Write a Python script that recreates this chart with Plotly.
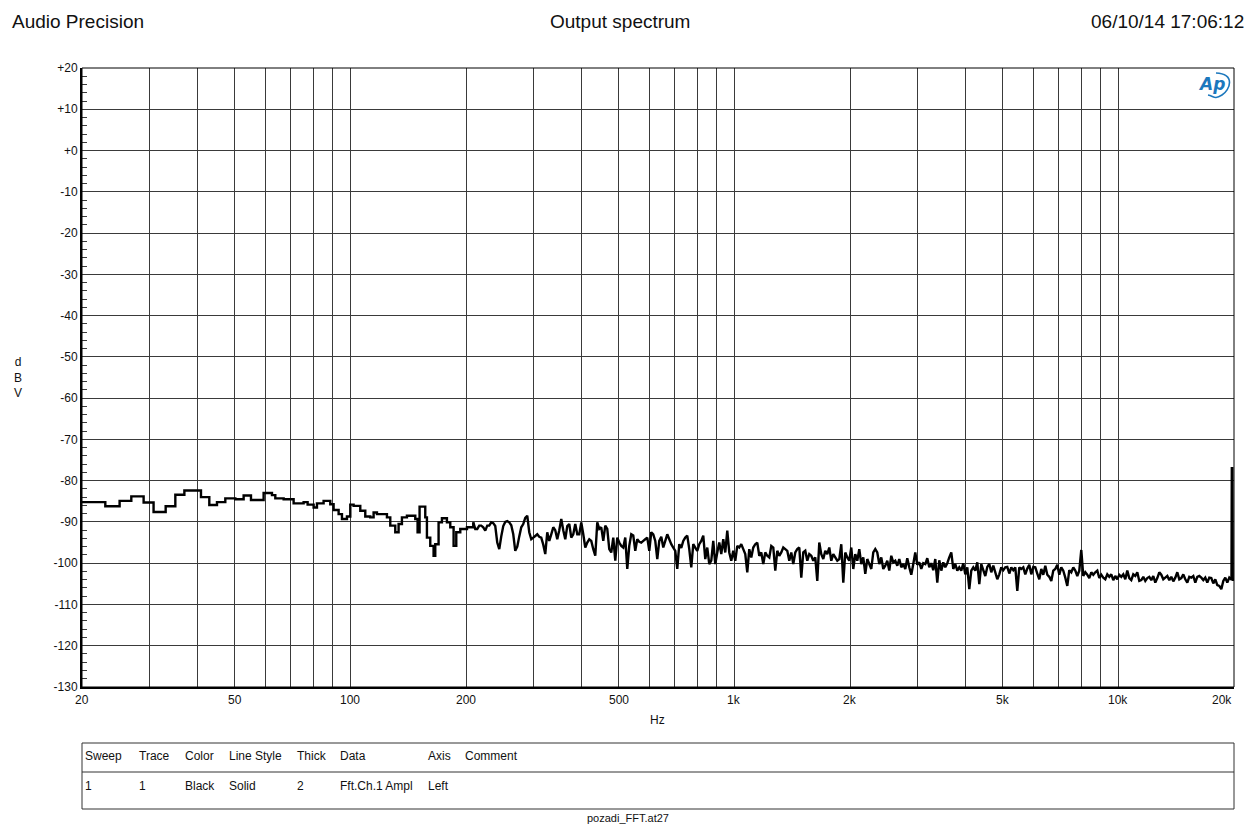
import numpy as np
import plotly.graph_objects as go

# ---------------------------------------------------------------------------
# Measured output spectrum (Fft.Ch.1 Ampl, dBV)
# ---------------------------------------------------------------------------

# Low band: individual FFT bins, drawn as steps (bin start frequency -> level)
low_band_hz = [
    20.0, 23.00, 25.06, 26.88, 28.94, 30.72, 33.03, 35.00, 36.95, 40.82,
    42.91, 44.93, 47.23, 50.15, 52.72, 55.09, 59.43, 62.48, 63.74, 67.01,
    71.14, 75.54, 77.37, 80.21, 81.83, 85.16, 88.63, 90.42, 93.18, 95.06,
    97.95, 99.93, 101.94, 106.10, 109.33, 112.66, 114.93, 117.26, 124.49, 127.00,
    130.86, 133.50, 136.20, 140.35, 147.54, 149.61, 151.41, 156.65, 158.23, 161.42,
    164.68, 166.33, 169.69, 173.12, 178.39, 182.00, 185.67, 188.67, 193.25, 201.17,
]
low_band_dbv = [
    -85.2, -86.2, -84.9, -83.8, -85.3, -87.6, -86.2, -83.4, -82.4, -84.0,
    -85.9, -85.2, -84.3, -84.5, -83.6, -84.7, -83.0, -83.5, -84.3, -84.5,
    -85.5, -85.2, -85.8, -86.5, -85.5, -84.9, -85.7, -87.1, -88.1, -89.3,
    -88.7, -85.8, -86.1, -87.3, -88.7, -88.9, -87.7, -88.1, -88.9, -90.9,
    -92.5, -90.5, -88.9, -88.5, -89.3, -92.5, -86.3, -88.9, -93.8, -95.8,
    -98.2, -95.4, -90.1, -89.1, -90.1, -91.3, -95.8, -92.5, -91.7, -91.3,
]

# Upper band: levels on an evenly log-spaced frequency grid
noise_band_start_hz = 208.9
noise_band_end_hz = 19444.0
noise_band_dbv = [
    # 209 Hz - 400 Hz
    -90.1, -91.7, -91.7, -90.9, -90.9, -91.3, -92.1, -90.9, -90.9, -90.1,
    -90.3, -91.0, -95.0, -96.6, -93.5, -91.0, -90.0, -89.8, -90.1, -90.8,
    -93.0, -97.0, -96.0, -93.5, -91.3, -90.5, -89.0, -88.5, -92.5, -94.2,
    -93.8, -93.4, -93.0, -93.6, -93.8, -95.5, -97.8, -92.5, -94.6, -93.0,
    -91.3, -92.0, -94.2, -92.0, -89.3, -92.0, -94.2, -91.0, -90.5, -93.8,
    -93.0, -90.5, -93.0, -93.0,
    # 400 Hz - 2.6 kHz
    -90.1, -93.0, -96.2, -95.0, -94.2, -94.6, -96.6, -98.2, -90.1, -91.7,
    -91.3, -94.6, -90.9, -91.7, -96.6, -97.4, -93.8, -99.4, -93.8, -95.0,
    -95.8, -96.2, -93.8, -101.4, -95.8, -93.0, -93.3, -97.0, -94.2, -94.8,
    -95.0, -94.6, -94.2, -93.8, -97.0, -92.5, -93.0, -94.6, -99.0, -94.6,
    -93.6, -96.2, -94.6, -93.0, -94.2, -95.4, -96.2, -97.0, -101.4, -95.4,
    -96.3, -94.6, -93.8, -93.3, -96.6, -101.0, -95.4, -96.2, -97.0, -95.4,
    -94.6, -93.3, -99.0, -96.2, -100.2, -99.4, -94.6, -100.2, -97.4, -95.0,
    -97.8, -94.2, -97.4, -92.1, -97.4, -99.4, -97.0, -99.4, -95.8, -96.2,
    -95.4, -96.6, -97.8, -102.2, -96.6, -98.6, -96.2, -95.4, -95.0, -98.2,
    -97.4, -100.2, -97.4, -98.2, -98.6, -95.8, -96.2, -101.8, -97.0, -98.2,
    -97.4, -96.2, -96.6, -97.0, -99.4, -97.4, -100.2, -97.4, -96.6, -96.2,
    -103.5, -97.4, -97.0, -99.4, -97.8, -98.2, -99.4, -98.6, -104.3, -95.0,
    -97.8, -99.0, -97.0, -97.8, -96.2, -99.4, -97.8, -98.6, -99.4, -99.0,
    -95.4, -104.7, -97.4, -98.6, -99.4, -96.2, -101.4, -97.8, -99.4, -96.6,
    -100.2, -98.6, -102.6, -99.0, -100.2, -101.4, -97.4, -96.6, -97.4, -100.2,
    -98.6, -101.4, -100.6, -99.4, -101.8, -98.2, -99.8, -99.4, -100.6, -99.0,
    # 2.6 kHz - 19.4 kHz
    -101.0, -100.2, -101.4, -98.8, -101.0, -102.8, -100.2, -97.4, -100.4, -99.8,
    -101.4, -100.0, -100.2, -98.8, -101.0, -100.0, -101.7, -99.0, -104.7, -99.3,
    -101.8, -99.8, -101.0, -100.0, -98.6, -97.4, -101.4, -100.2, -101.8, -101.0,
    -101.8, -100.0, -102.7, -101.0, -106.3, -101.8, -101.0, -101.8, -99.8, -105.1,
    -100.2, -101.7, -103.1, -100.9, -100.2, -102.2, -100.6, -102.2, -103.9, -102.7,
    -101.0, -101.7, -101.0, -100.9, -102.5, -101.0, -101.7, -101.0, -106.7, -101.0,
    -101.4, -101.0, -102.7, -101.3, -100.4, -102.7, -100.9, -101.0, -102.5, -103.9,
    -101.4, -102.8, -100.6, -102.8, -103.3, -104.3, -101.8, -101.4, -100.4, -102.8,
    -101.0, -101.8, -103.5, -105.5, -101.7, -102.2, -101.0, -101.8, -103.1, -101.8,
    -96.8, -103.1, -102.2, -102.8, -103.6, -102.2, -102.8, -102.2, -101.8, -103.6,
    -102.8, -103.5, -103.9, -102.7, -103.3, -102.7, -104.1, -103.1, -103.9, -102.8,
    -103.3, -102.7, -103.9, -101.8, -103.6, -104.1, -102.7, -103.1, -102.2, -104.3,
    -104.1, -103.3, -104.3, -103.6, -103.3, -104.1, -103.1, -104.7, -103.6, -102.2,
    -102.8, -103.9, -103.5, -103.1, -104.1, -103.3, -104.4, -103.5, -102.2, -103.9,
    -103.6, -102.7, -103.9, -104.7, -103.3, -103.5, -103.1, -104.7, -103.3, -103.1,
    -103.5, -104.1, -103.5, -104.7, -103.5, -103.6, -104.9, -103.9, -105.3, -105.5,
    -106.3, -104.3, -103.5, -104.7, -103.5,
]

# Tone at the top of the band
tone_hz = [19700.0, 19740.0, 19800.0, 19850.0, 20000.0]
tone_dbv = [-104.0, -77.0, -77.0, -104.0, -104.0]

# Axis ticks
y_tick_values = [20, 10, 0, -10, -20, -30, -40, -50, -60, -70, -80, -90, -100, -110, -120, -130]
y_tick_labels = ["+20", "+10", "+0", "-10", "-20", "-30", "-40", "-50", "-60", "-70",
                 "-80", "-90", "-100", "-110", "-120", "-130"]
x_tick_hz = [20, 50, 100, 200, 500, 1000, 2000, 5000, 10000, 20000]
x_tick_labels = ["20", "50", "100", "200", "500", "1k", "2k", "5k", "10k", "20k"]

# Trace legend table
table_columns = ["Sweep", "Trace", "Color", "Line Style", "Thick", "Data", "Axis", "Comment"]
table_values = ["1", "1", "Black", "Solid", "2", "Fft.Ch.1 Ampl", "Left", ""]

# ---------------------------------------------------------------------------
noise_hz = np.geomspace(noise_band_start_hz, noise_band_end_hz, len(noise_band_dbv))

# stepped part runs into the first bin of the dense part so the line is continuous
step_hz = np.concatenate([low_band_hz, noise_hz[:1]])
step_dbv = np.concatenate([low_band_dbv, noise_band_dbv[:1]])

dense_hz = np.concatenate([noise_hz, tone_hz])
dense_dbv = np.concatenate([noise_band_dbv, tone_dbv])

W, H = 1256, 826
L, R, T, B = 82, 1234, 68, 687   # plot area in page pixels


def px_x(x):
    return (x - L) / (R - L)


def px_y(y):
    return (B - y) / (B - T)


FONT = "Liberation Sans, Arial, sans-serif"
INK = "#111111"
GRID = "#3a3a3a"
TRACE_W = 2.4

fig = go.Figure()
fig.add_trace(go.Scatter(
    x=step_hz, y=step_dbv, mode="lines",
    line=dict(color="black", width=TRACE_W, shape="hv", simplify=False),
    hoverinfo="skip", showlegend=False,
))
fig.add_trace(go.Scatter(
    x=dense_hz, y=dense_dbv, mode="lines",
    line=dict(color="black", width=TRACE_W, shape="linear", simplify=False),
    hoverinfo="skip", showlegend=False,
))

# vertical grid at 1-2-3-...-9 decades
grid_hz = [m * 10 ** e for e in range(1, 5) for m in range(1, 10) if 20 <= m * 10 ** e <= 20000]

fig.update_xaxes(
    type="log", range=[np.log10(20), np.log10(20000)],
    tickmode="array", tickvals=grid_hz, showticklabels=False, ticks="",
    showgrid=True, gridcolor=GRID, gridwidth=1,
    showline=True, linecolor="black", linewidth=2, zeroline=False,
)
fig.update_yaxes(
    range=[-130, 20],
    tickmode="array", tickvals=y_tick_values, ticktext=y_tick_labels,
    ticks="inside", ticklen=5, tickcolor=GRID, tickwidth=1,
    tickfont=dict(family=FONT, size=12, color=INK),
    minor=dict(tickmode="linear", tick0=0, dtick=2, ticks="inside",
               ticklen=5, tickcolor=GRID, tickwidth=1, showgrid=False),
    showgrid=True, gridcolor=GRID, gridwidth=1,
    showline=True, linecolor="black", linewidth=2, zeroline=False,
)

ann = []


def text(x, y, s, size=12, xanchor="center", xref="paper", color=INK, **kw):
    ann.append(dict(x=x, y=y, xref=xref, yref="paper", text=s, showarrow=False,
                    xanchor=xanchor, yanchor="middle",
                    font=dict(family=FONT, size=size, color=color), **kw))


# page header
text(px_x(10), px_y(22), "Audio Precision", size=19, xanchor="left")
text(px_x(620), px_y(22), "Output spectrum", size=19)
text(px_x(1246), px_y(22), "06/10/14 17:06:12", size=19, xanchor="right")

# axis titles
text(px_x(18), px_y(377), "d<br>B<br>V", size=12)
text(px_x(657), px_y(720), "Hz", size=12)

# frequency labels
for hz, lab in zip(x_tick_hz, x_tick_labels):
    last = hz == x_tick_hz[-1]
    text(np.log10(hz), px_y(700), lab, size=12, xref="x",
         xanchor="right" if last else "center")

# legend table
col_px = [83, 137, 183, 227, 295, 338, 426, 463]
for cx, head, val in zip(col_px, table_columns, table_values):
    text(px_x(cx), px_y(756), head, size=12, xanchor="left")
    if val:
        text(px_x(cx), px_y(786), val, size=12, xanchor="left")

text(px_x(628), px_y(818), "pozadi_FFT.at27", size=11)

# AP logo
ann.append(dict(x=px_x(1211), y=px_y(84), xref="paper", yref="paper",
                text="<b><i>Ap</i></b>", showarrow=False,
                xanchor="center", yanchor="middle",
                font=dict(family="DejaVu Sans", size=17, color="#1c78bd")))

shapes = [
    dict(type="rect", xref="paper", yref="paper", x0=0, x1=1, y0=0, y1=1,
         line=dict(color="black", width=1)),
    dict(type="rect", xref="paper", yref="paper", x0=0, x1=1,
         y0=px_y(743), y1=px_y(809), line=dict(color="#333333", width=1)),
    dict(type="line", xref="paper", yref="paper", x0=0, x1=1,
         y0=px_y(772), y1=px_y(772), line=dict(color="#333333", width=1)),
]

# swoosh around the logo letters
p = [(1216, 73), (1236, 74), (1230, 90), (1222, 95), (1214, 96), (1208, 95)]
path = "M {},{} C {},{} {},{} {},{} S {},{} {},{}".format(
    px_x(p[0][0]), px_y(p[0][1]),
    px_x(p[1][0]), px_y(p[1][1]), px_x(p[2][0]), px_y(p[2][1]),
    px_x(p[3][0]), px_y(p[3][1]),
    px_x(p[4][0]), px_y(p[4][1]), px_x(p[5][0]), px_y(p[5][1]),
)
shapes.append(dict(type="path", xref="paper", yref="paper", path=path,
                   line=dict(color="#1c78bd", width=1.6)))

fig.update_layout(
    width=W, height=H,
    margin=dict(l=L, r=W - R, t=T, b=H - B, pad=0),
    paper_bgcolor="white", plot_bgcolor="white",
    font=dict(family=FONT, color=INK),
    annotations=ann, shapes=shapes, showlegend=False,
)

fig.write_html("out.html")
